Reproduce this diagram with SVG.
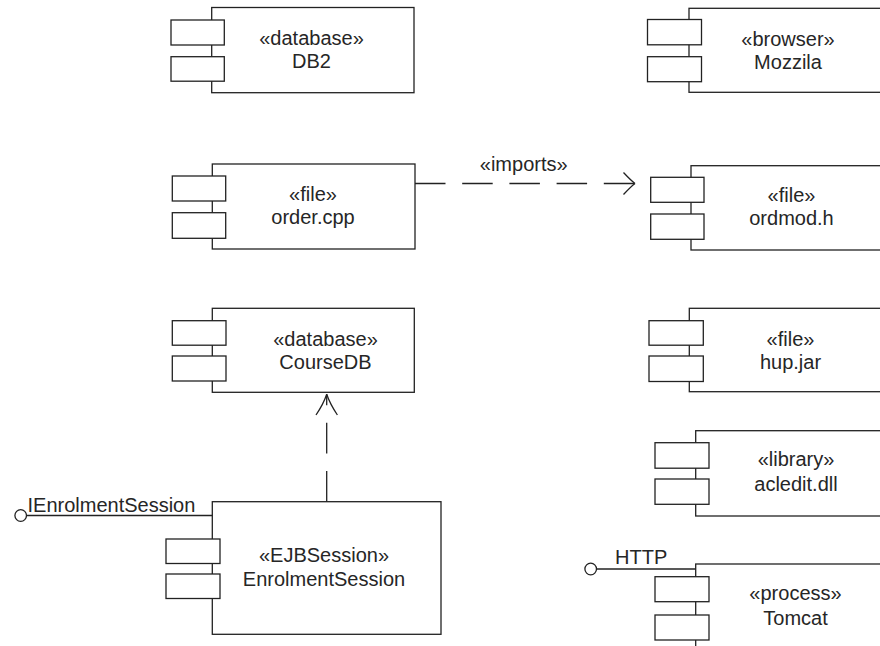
<svg xmlns="http://www.w3.org/2000/svg" width="880" height="646" viewBox="0 0 880 646">
  <style>
    .box { fill: #fff; stroke: #222; stroke-width: 1.3; }
    .port { fill: #fff; stroke: #222; stroke-width: 1.3; }
    .line { fill: none; stroke: #222; stroke-width: 1.3; }
    .dash { fill: none; stroke: #222; stroke-width: 1.3; }
    .t { font-family: "Liberation Sans", Arial, Helvetica, sans-serif; font-size: 20px; fill: #262626; text-anchor: middle; }
    .ts { font-family: "Liberation Sans", Arial, Helvetica, sans-serif; font-size: 20px; fill: #262626; text-anchor: start; }
  </style>
  <rect width="880" height="646" fill="#fff"/>

  <!-- dependency connectors -->
  <g id="connectors">
    <path class="dash" d="M415,183.5 H635" stroke-dasharray="30.5 16.7"/>
    <path class="line" d="M623.5,172.5 Q631,180.5 635,183.5 M623.5,194.5 Q631,186.5 635,183.5"/>
    <text class="t" x="523.7" y="170.5">«imports»</text>
    <path class="dash" d="M326.7,501.7 V394.3" stroke-dasharray="30.7 17.5"/>
    <path class="line" d="M316,415 Q323.5,404 326.7,394.3 M337.4,415 Q330,404 326.7,394.3"/>
  </g>

  <g id="db2">
    <rect class="box" x="211.7" y="7.5" width="202.3" height="85.2"/>
    <rect class="port" x="171" y="20" width="53.3" height="25"/>
    <rect class="port" x="171" y="56.7" width="53.3" height="24.5"/>
    <text class="t" x="311.5" y="45">«database»</text>
    <text class="t" x="311.5" y="68.3">DB2</text>
  </g>

  <g id="mozzila">
    <rect class="box" x="689" y="8.3" width="220" height="84"/>
    <rect class="port" x="647.5" y="19.5" width="54" height="25.3"/>
    <rect class="port" x="647.5" y="56.7" width="54" height="25"/>
    <text class="t" x="788" y="45.5">«browser»</text>
    <text class="t" x="788" y="69">Mozzila</text>
  </g>

  <g id="order-cpp">
    <rect class="box" x="212.3" y="164" width="202.7" height="85"/>
    <rect class="port" x="172.3" y="176" width="53.4" height="25"/>
    <rect class="port" x="172.3" y="212.7" width="53.4" height="25.6"/>
    <text class="t" x="313" y="200.5">«file»</text>
    <text class="t" x="313" y="223.5">order.cpp</text>
  </g>

  <g id="ordmod-h">
    <rect class="box" x="691" y="165.7" width="220" height="84.3"/>
    <rect class="port" x="650.7" y="177.3" width="53.3" height="25"/>
    <rect class="port" x="650.7" y="214" width="53.3" height="25.3"/>
    <text class="t" x="791.5" y="202">«file»</text>
    <text class="t" x="791.5" y="225">ordmod.h</text>
  </g>

  <g id="coursedb">
    <rect class="box" x="212.3" y="308.3" width="202" height="84"/>
    <rect class="port" x="172.3" y="320.7" width="53.7" height="24.5"/>
    <rect class="port" x="172.3" y="356" width="53.7" height="25"/>
    <text class="t" x="325.5" y="346">«database»</text>
    <text class="t" x="325.5" y="369.3">CourseDB</text>
  </g>

  <g id="hup-jar">
    <rect class="box" x="689.3" y="308.3" width="220" height="83.4"/>
    <rect class="port" x="649" y="320.7" width="54.3" height="24.5"/>
    <rect class="port" x="649" y="356" width="54.3" height="25.5"/>
    <text class="t" x="790.5" y="345.5">«file»</text>
    <text class="t" x="790.5" y="369">hup.jar</text>
  </g>

  <g id="acledit-dll">
    <rect class="box" x="695.7" y="430.7" width="220" height="85.3"/>
    <rect class="port" x="655" y="442.7" width="54" height="25.5"/>
    <rect class="port" x="655" y="479" width="54" height="25.3"/>
    <text class="t" x="796" y="466">«library»</text>
    <text class="t" x="796" y="490.5">acledit.dll</text>
  </g>

  <g id="enrolment-session">
    <rect class="box" x="212.3" y="501.7" width="228.7" height="132.6"/>
    <rect class="port" x="166" y="539" width="54" height="24.5"/>
    <rect class="port" x="166" y="574" width="54" height="24.5"/>
    <line class="line" x1="26.5" y1="515.5" x2="212.3" y2="515.5"/>
    <circle class="port" cx="20.7" cy="515.5" r="5.8"/>
    <text class="ts" x="27.5" y="511.5">IEnrolmentSession</text>
    <text class="t" x="324" y="562">«EJBSession»</text>
    <text class="t" x="324" y="586">EnrolmentSession</text>
  </g>

  <g id="tomcat">
    <rect class="box" x="695.7" y="564" width="220" height="100"/>
    <rect class="port" x="655" y="576.7" width="54" height="25"/>
    <rect class="port" x="655" y="615" width="54" height="25"/>
    <line class="line" x1="596.5" y1="569" x2="695.7" y2="569"/>
    <circle class="port" cx="590.7" cy="569" r="5.8"/>
    <text class="ts" x="615" y="564">HTTP</text>
    <text class="t" x="795.5" y="600">«process»</text>
    <text class="t" x="795.5" y="625">Tomcat</text>
  </g>
</svg>
